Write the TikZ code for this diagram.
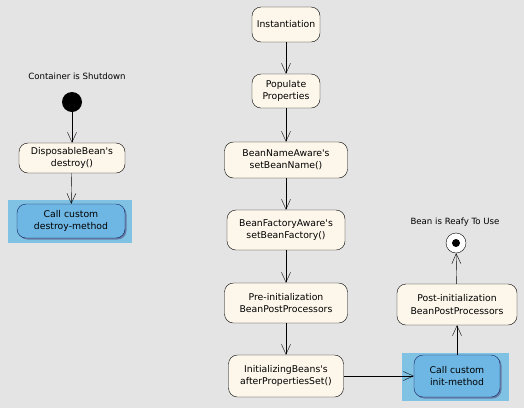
\documentclass[tikz,border=0pt]{standalone}
\usepackage{fontspec}
\setmainfont{DejaVu Sans}
\usetikzlibrary{arrows.meta,shadows}
\definecolor{bggray}{RGB}{228,228,228}
\definecolor{cream}{RGB}{253,246,234}
\definecolor{panelblue}{RGB}{128,194,228}
\definecolor{callblue}{RGB}{110,182,228}
\definecolor{callline}{RGB}{20,30,90}
\newcommand{\apos}{\textquotesingle}
\tikzset{
  activity/.style={draw=black, fill=cream, rounded corners=9pt, align=center,
    font=\fontsize{9.3}{12.3}\selectfont, inner sep=2pt},
  callnode/.style={activity, draw=callline, fill=callblue,
    drop shadow={shadow xshift=1.5pt, shadow yshift=-1.5pt, fill=callline!70, opacity=.7}},
  panel/.style={fill=panelblue, draw=none},
  flow/.style={draw=black, -{Straight Barb[length=10pt,width=9pt]}},
  caption/.style={font=\fontsize{8.6}{10}\selectfont}
}
\begin{document}
\begin{tikzpicture}[x=1pt,y=-1pt]
   \fill[bggray] (0,0) rectangle (524,408);
   \useasboundingbox (0,0) rectangle (524,408);

   % shutdown path
   \node[caption] (shutdown) at (77,76) {Container is Shutdown};
   \fill (72,102) circle (10) coordinate (start);
   \node[activity, minimum width=106pt, minimum height=30pt] (dispose) at (72,158) {DisposableBean\apos s\\destroy()};
   \fill[panel] (8,200) rectangle (132,243);
   \node[callnode, minimum width=108pt, minimum height=34pt] (destroy) at (71,221) {Call custom\\destroy-method};
   \draw[flow] (72,112) -- (dispose);
   \draw[flow] (dispose) -- (destroy);

   % creation path
   \node[activity, minimum width=68pt, minimum height=35pt] (inst) at (286,24.5) {Instantiation};
   \node[activity, minimum width=68pt, minimum height=34pt] (populate) at (286,91) {Populate\\Properties};
   \node[activity, minimum width=123pt, minimum height=36pt] (beanname) at (286,160) {BeanNameAware\apos s\\setBeanName()};
   \node[activity, minimum width=118pt, minimum height=40pt] (beanfactory) at (286,230) {BeanFactoryAware\apos s\\setBeanFactory()};
   \node[activity, minimum width=123pt, minimum height=40pt] (preinit) at (286,303) {Pre-initialization\\BeanPostProcessors};
   \node[activity, minimum width=115pt, minimum height=42pt] (initbeans) at (286,376) {InitializingBeans\apos s\\afterPropertiesSet()};
   \fill[panel] (402,353) rectangle (509,401);
   \node[callnode, minimum width=86pt, minimum height=42pt] (initmethod) at (457,376) {Call custom\\init-method};
   \node[activity, minimum width=120pt, minimum height=41pt] (postinit) at (457,304.5) {Post-initialization\\BeanPostProcessors};
   \node[circle, draw=black, fill=white, minimum size=20pt, inner sep=0pt] (ready) at (456,243) {};
   \fill (ready.center) circle (4);
   \node[caption] (readylabel) at (455,222) {Bean is Reafy To Use};

   \draw[flow] (inst) -- (populate);
   \draw[flow] (populate) -- (beanname);
   \draw[flow] (beanname) -- (beanfactory);
   \draw[flow] (beanfactory) -- (preinit);
   \draw[flow] (preinit) -- (initbeans);
   \draw[flow] (initbeans) -- (initmethod);
   \draw[flow] (initmethod) -- (postinit);
   \draw[flow] (postinit) -- (ready);
\end{tikzpicture}
\end{document}
